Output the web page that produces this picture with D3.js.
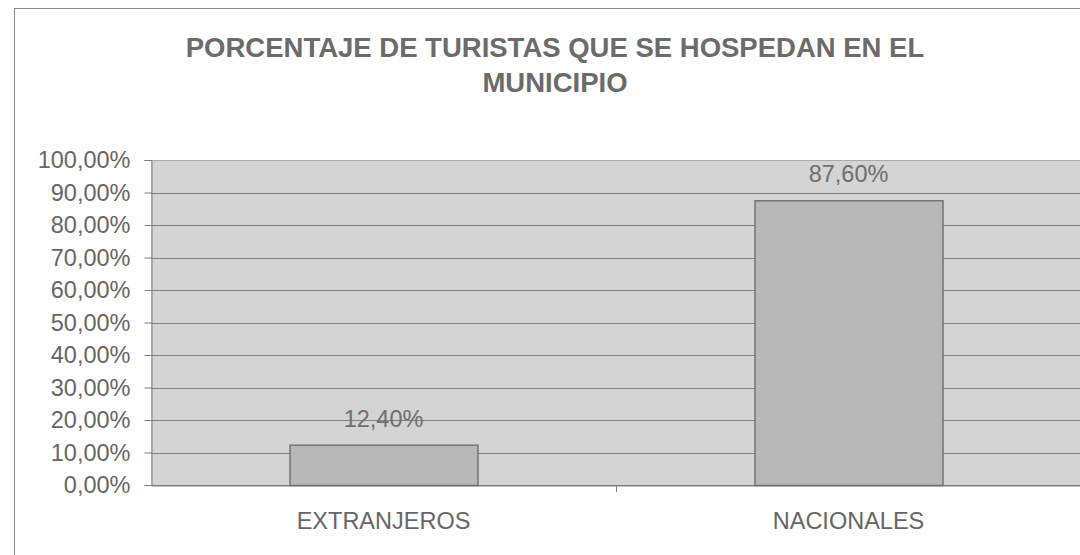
<!DOCTYPE html>
<html>
<head>
<meta charset="utf-8">
<script src="https://cdn.jsdelivr.net/npm/d3@7"></script>
<style>
  body { margin: 0; background: #fff; }
  svg { display: block; font-family: "Liberation Sans", Arial, sans-serif; }
</style>
</head>
<body>
<div class="chart"></div>
<script>
var categories = ['EXTRANJEROS', 'NACIONALES'];
var values = [12.4, 87.6];
var yTicks = [0, 10, 20, 30, 40, 50, 60, 70, 80, 90, 100];
var titleLines = ['PORCENTAJE DE TURISTAS QUE SE HOSPEDAN EN EL', 'MUNICIPIO'];

var config = {
    w: 1080,
    h: 555,
    left: 151,
    right: 1081,
    top: 160,
    bottom: 485
};

var fmt = function (v) {
    return v.toFixed(2).replace('.', ',') + '%';
};

var svg = d3.select('.chart')
    .append('svg')
    .attr('width', config.w)
    .attr('height', config.h);

// chart frame
svg.append('rect')
    .attr('x', 14.5).attr('y', 8.5)
    .attr('width', config.w).attr('height', config.h)
    .attr('fill', '#fff')
    .attr('stroke', '#8a8a8a');

svg.selectAll('text.title')
    .data(titleLines)
    .enter()
    .append('text')
    .attr('class', 'title')
    .attr('x', 555)
    .attr('y', function (d, i) { return 57 + i * 35; })
    .attr('text-anchor', 'middle')
    .attr('font-size', '27.5px')
    .attr('font-weight', 'bold')
    .attr('fill', '#6b6b6b')
    .text(function (d) { return d; });

var xScale = d3.scaleBand()
    .domain(categories)
    .range([config.left, config.right])
    .paddingInner(0)
    .paddingOuter(0);

var yScale = d3.scaleLinear()
    .domain([0, 100])
    .range([config.bottom, config.top]);

// plot area
svg.append('rect')
    .attr('x', config.left).attr('y', config.top)
    .attr('width', config.right - config.left)
    .attr('height', config.bottom - config.top)
    .attr('fill', '#d4d4d4');

svg.selectAll('line.grid')
    .data(yTicks)
    .enter()
    .append('line')
    .attr('class', 'grid')
    .attr('x1', config.left).attr('x2', config.right)
    .attr('y1', function (d) { return Math.round(yScale(d)) + 0.5; })
    .attr('y2', function (d) { return Math.round(yScale(d)) + 0.5; })
    .attr('stroke', function (d) { return d === 100 ? '#aaa' : '#7f7f7f'; });

var yAxis = d3.axisLeft(yScale)
    .tickValues(yTicks)
    .tickSize(7)
    .tickPadding(14)
    .tickFormat(fmt);

svg.append('g')
    .attr('class', 'axis')
    .attr('transform', 'translate(' + (config.left + 0.5) + ',0)')
    .call(yAxis)
    .call(function (g) {
        g.select('.domain').attr('stroke', '#7f7f7f');
        g.selectAll('.tick line').attr('stroke', '#7f7f7f');
        g.selectAll('.tick text')
            .attr('font-size', '23.5px')
            .attr('font-family', '"Liberation Sans", Arial, sans-serif')
            .attr('fill', '#666');
    });

var xAxis = d3.axisBottom(xScale)
    .tickSize(0)
    .tickPadding(26);

svg.append('g')
    .attr('class', 'axis')
    .attr('transform', 'translate(0,' + (config.bottom + 0.5) + ')')
    .call(xAxis)
    .call(function (g) {
        g.select('.domain').attr('stroke', '#7f7f7f');
        g.selectAll('.tick text')
            .attr('font-size', '23.5px')
            .attr('font-family', '"Liberation Sans", Arial, sans-serif')
            .attr('fill', '#666')
            .attr('dy', null)
            .attr('y', 43);
    });

// tick between categories
svg.append('line')
    .attr('x1', xScale(categories[1]) + 0.5).attr('x2', xScale(categories[1]) + 0.5)
    .attr('y1', config.bottom).attr('y2', config.bottom + 7)
    .attr('stroke', '#7f7f7f');

var barW = 188;
var bars = categories.map(function (c, i) { return { cat: c, value: values[i] }; });

svg.selectAll('rect.bar')
    .data(bars)
    .enter()
    .append('rect')
    .attr('class', 'bar')
    .attr('x', function (d) { return xScale(d.cat) + (xScale.bandwidth() - barW) / 2 + 0.5; })
    .attr('y', function (d) { return yScale(d.value) + 0.5; })
    .attr('width', barW)
    .attr('height', function (d) { return config.bottom - yScale(d.value); })
    .attr('fill', '#b8b8b8')
    .attr('stroke', '#737373')
    .attr('stroke-width', 1.5);

svg.selectAll('text.label')
    .data(bars)
    .enter()
    .append('text')
    .attr('class', 'label')
    .attr('x', function (d) { return xScale(d.cat) + xScale.bandwidth() / 2; })
    .attr('y', function (d) { return yScale(d.value) - 18; })
    .attr('text-anchor', 'middle')
    .attr('font-size', '23.5px')
    .attr('fill', '#6e6e6e')
    .text(function (d) { return fmt(d.value); });
</script>
</body>
</html>
